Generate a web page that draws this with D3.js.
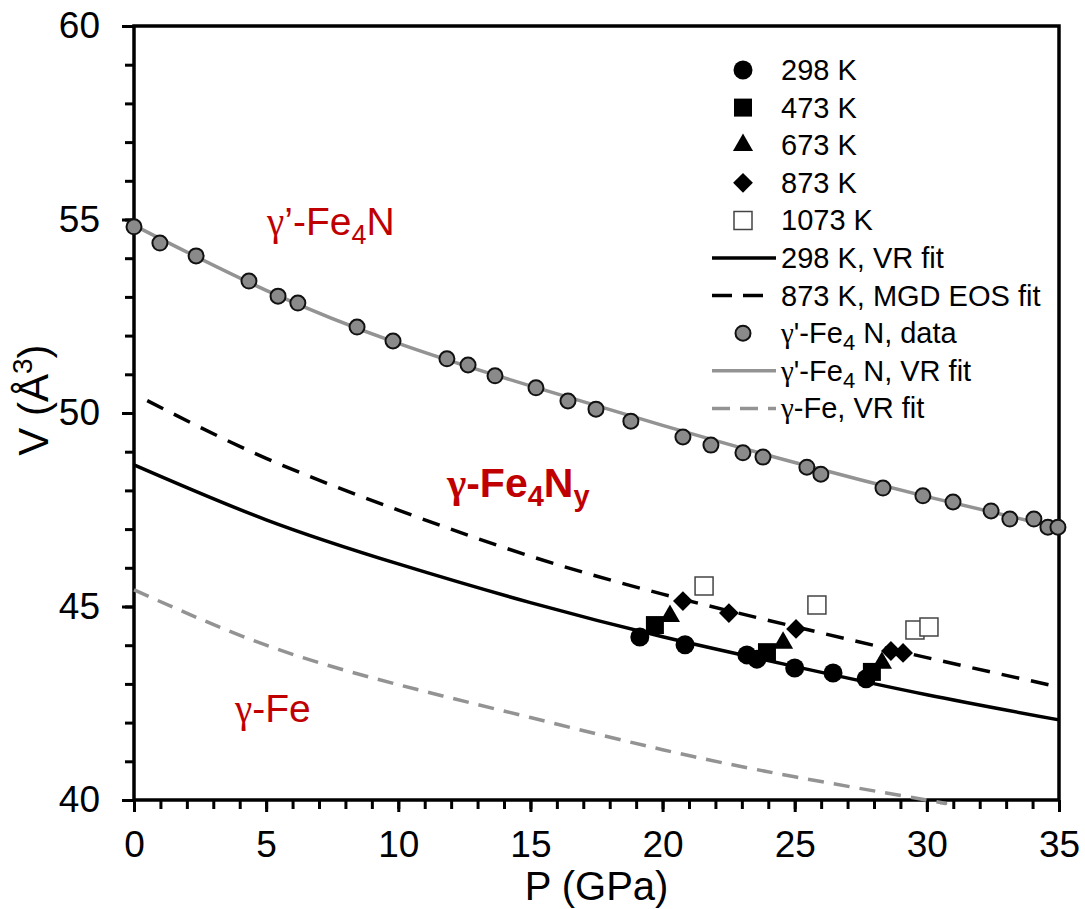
<!DOCTYPE html>
<html>
<head>
<meta charset="utf-8">
<script src="https://cdn.jsdelivr.net/npm/d3@7"></script>
<style>
	body { margin: 0; background: #fff; }
	svg { display: block; }
	text { font-family: "Liberation Sans", Arial, sans-serif; }
</style>
</head>
<body>
<svg id="chart" width="1085" height="909"></svg>
<script>

// gamma'-Fe4N data (P in GPa, V in A^3)
const fe4nP = [0, 0.98, 2.35, 4.35, 5.45, 6.2, 8.44, 9.8, 11.84, 12.64, 13.66, 15.21, 16.42, 17.48,
	18.8, 20.77, 21.83, 23.04, 23.8, 25.46, 25.99, 28.34, 29.85, 30.99, 32.43, 33.14, 34.05, 34.58, 34.96]
const fe4nV = [54.81, 54.39, 54.06, 53.41, 53.02, 52.84, 52.22, 51.86, 51.40, 51.24, 50.96, 50.65, 50.31, 50.10,
	49.79, 49.38, 49.17, 48.97, 48.86, 48.60, 48.42, 48.06, 47.86, 47.70, 47.47, 47.26, 47.26, 47.05, 47.05]

// gamma-Fe4Ny data by temperature
const p298 = [19.14, 20.85, 23.19, 23.57, 25.0, 26.45, 27.7]
const v298 = [44.21, 44.01, 43.75, 43.64, 43.41, 43.28, 43.13]
const p473 = [19.71, 23.95, 27.92]
const v473 = [44.52, 43.82, 43.31]
const p673 = [20.28, 24.56, 28.3]
const v673 = [44.75, 44.06, 43.54]
const p873 = [20.77, 22.51, 25.05, 28.64, 29.1]
const v873 = [45.14, 44.83, 44.42, 43.85, 43.80]
const p1073 = [21.57, 25.84, 29.55, 30.08]
const v1073 = [45.53, 45.04, 44.39, 44.47]

// fitted curves
const fitP = [0, 5, 10, 15, 20, 25, 30, 35]
const vr298V = [48.66, 47.24, 46.10, 45.10, 44.22, 43.45, 42.72, 42.07]
const fe4nFitV = [54.85, 53.17, 51.80, 50.70, 49.68, 48.72, 47.84, 47.03]
const mgdP = [0.5, 5, 10, 15, 20, 25, 30, 35]
const mgd873V = [50.32, 48.83, 47.49, 46.30, 45.32, 44.48, 43.68, 42.92]
const feP = [0, 5, 10, 15, 20, 25, 30, 30.5]
const feFitV = [45.43, 44.00, 42.98, 42.13, 41.30, 40.60, 40.00, 39.93]

const xTicks = [0, 5, 10, 15, 20, 25, 30, 35]
const yTicks = [40, 45, 50, 55, 60]
const legendLabels = ['298 K', '473 K', '673 K', '873 K', '1073 K', '298 K, VR fit', '873 K, MGD EOS fit',
	'γ\'-Fe4N, data', 'γ\'-Fe4N, VR fit', 'γ-Fe, VR fit']

const svg = d3.select('#chart')
const plotL = 134, plotR = 1059, plotT = 26, plotB = 800
const gray = '#939393'
const grayFill = '#8a8a8a'
const red = '#c00000'

const x = d3.scaleLinear().domain([0, 35]).range([plotL, plotR])
const y = d3.scaleLinear().domain([40, 60]).range([plotB, plotT])

// axes: minor ticks first, then major with labels
function styleAxis(g) {
	g.select('.domain').remove()
	g.selectAll('.tick line').attr('stroke', '#000').attr('stroke-width', 3)
	g.selectAll('.tick text').attr('fill', '#000').style('font-size', '37px')
}
svg.append('g').attr('transform', 'translate(0,' + plotB + ')')
	.call(d3.axisBottom(x).tickValues(d3.range(0, 36, 1)).tickSize(9).tickFormat(''))
	.call(styleAxis)
svg.append('g').attr('transform', 'translate(0,' + plotB + ')')
	.call(d3.axisBottom(x).tickValues(xTicks).tickSize(12).tickPadding(19).tickFormat(d3.format('d')))
	.call(styleAxis)
svg.append('g').attr('transform', 'translate(' + plotL + ',0)')
	.call(d3.axisLeft(y).tickValues(d3.range(40, 61, 1)).tickSize(9).tickFormat(''))
	.call(styleAxis)
svg.append('g').attr('transform', 'translate(' + plotL + ',0)')
	.call(d3.axisLeft(y).tickValues(yTicks).tickSize(12).tickPadding(22).tickFormat(d3.format('d')))
	.call(styleAxis)

svg.append('rect')
	.attr('x', plotL).attr('y', plotT)
	.attr('width', plotR - plotL).attr('height', plotB - plotT)
	.attr('fill', 'none').attr('stroke', '#000').attr('stroke-width', 3.5)

// axis titles
svg.append('text')
	.attr('x', (plotL + plotR) / 2).attr('y', 900)
	.attr('text-anchor', 'middle').style('font-size', '40px')
	.text('P (GPa)')
const yTitle = svg.append('text')
	.attr('transform', 'translate(48,400) rotate(-90)')
	.attr('text-anchor', 'middle').style('font-size', '42px')
yTitle.append('tspan').text('V (Å')
yTitle.append('tspan').attr('dy', -16).style('font-size', '28px').text('3')
yTitle.append('tspan').attr('dy', 16).text(')')

// fit lines
const zip = (ps, vs) => ps.map((p, i) => [p, vs[i]])
const line = d3.line().x(d => x(d[0])).y(d => y(d[1])).curve(d3.curveNatural)

const fits = [
	{ pts: zip(feP, feFitV), color: gray, dash: '16,10' },
	{ pts: zip(fitP, vr298V), color: '#000', dash: null },
	{ pts: zip(mgdP, mgd873V), color: '#000', dash: '18,12' },
	{ pts: zip(fitP, fe4nFitV), color: gray, dash: null }
]
svg.append('g').selectAll('path')
	.data(fits)
	.enter().append('path')
		.attr('d', d => line(d.pts))
		.attr('fill', 'none')
		.attr('stroke', d => d.color)
		.attr('stroke-width', 3.5)
		.attr('stroke-dasharray', d => d.dash)

// markers
const sym = {
	circle: d3.symbol().type(d3.symbolCircle).size(Math.PI * 9.5 * 9.5),
	square: d3.symbol().type(d3.symbolSquare).size(18 * 18),
	triangle: d3.symbol().type(d3.symbolTriangle).size(175),
	diamond: d3.symbol().type(d3.symbolSquare).size(14 * 14),
	open: d3.symbol().type(d3.symbolSquare).size(18 * 18),
	gray: d3.symbol().type(d3.symbolCircle).size(Math.PI * 7.5 * 7.5)
}
const markerStyle = {
	circle: { fill: '#000', stroke: 'none', sw: 0 },
	square: { fill: '#000', stroke: 'none', sw: 0 },
	triangle: { fill: '#000', stroke: 'none', sw: 0 },
	diamond: { fill: '#000', stroke: 'none', sw: 0 },
	open: { fill: '#fff', stroke: '#444', sw: 1.5 },
	gray: { fill: grayFill, stroke: '#111', sw: 2 }
}
function drawMarkers(kind, ps, vs) {
	const st = markerStyle[kind]
	svg.append('g').selectAll('path')
		.data(zip(ps, vs))
		.enter().append('path')
			.attr('d', sym[kind]())
			.attr('transform', d => 'translate(' + x(d[0]) + ',' + y(d[1]) + ')' + (kind === 'diamond' ? ' rotate(45)' : ''))
			.attr('fill', st.fill)
			.attr('stroke', st.stroke)
			.attr('stroke-width', st.sw)
}
drawMarkers('gray', fe4nP, fe4nV)
drawMarkers('open', p1073, v1073)
drawMarkers('diamond', p873, v873)
drawMarkers('circle', p298, v298)
drawMarkers('square', p473, v473)
drawMarkers('triangle', p673, v673)

// region labels
function phaseLabel(px, py, bold, size, parts) {
	const t = svg.append('text')
		.attr('x', px).attr('y', py)
		.attr('fill', red)
		.style('font-size', size + 'px')
		.style('font-weight', bold ? 'bold' : 'normal')
	parts.forEach(p => {
		const s = t.append('tspan').text(p.t)
		if (p.serif) s.style('font-family', '"Liberation Serif", serif')
		if (p.sub) s.attr('dy', 9).style('font-size', Math.round(size * 0.7) + 'px')
		if (p.up) s.attr('dy', -9)
	})
}
phaseLabel(267, 235, false, 39, [{ t: 'γ', serif: true }, { t: '’-Fe' }, { t: '4', sub: true }, { t: 'N', up: true }])
phaseLabel(447, 497, true, 41, [{ t: 'γ', serif: true }, { t: '-Fe' }, { t: '4', sub: true }, { t: 'N', up: true }, { t: 'y', sub: true }])
phaseLabel(235, 722, false, 39, [{ t: 'γ', serif: true }, { t: '-Fe' }])

// legend
const legY = 70, legStep = 37.6, legMx = 743, legTx = 781
const legKinds = ['circle', 'square', 'triangle', 'diamond', 'open', 'line', 'dash', 'gray', 'grayline', 'graydash']
const legend = svg.append('g')
legendLabels.forEach((lab, i) => {
	const yy = legY + i * legStep
	const k = legKinds[i]
	if (sym[k]) {
		const st = markerStyle[k]
		legend.append('path')
			.attr('d', sym[k]())
			.attr('transform', 'translate(' + legMx + ',' + yy + ')' + (k === 'diamond' ? ' rotate(45)' : ''))
			.attr('fill', st.fill).attr('stroke', st.stroke).attr('stroke-width', st.sw)
	} else {
		legend.append('line')
			.attr('x1', 712).attr('x2', k === 'dash' ? 764 : 776)
			.attr('y1', yy).attr('y2', yy)
			.attr('stroke', k.startsWith('gray') ? gray : '#000')
			.attr('stroke-width', 3.5)
			.attr('stroke-dasharray', k === 'dash' ? '20,11' : (k === 'graydash' ? '18,10' : null))
	}
	const t = legend.append('text')
		.attr('x', legTx).attr('y', yy + 10)
		.style('font-size', '29px')
	if (lab.includes('Fe4N')) {
		const rest = lab.split('Fe4N')
		t.append('tspan').style('font-family', '"Liberation Serif", serif').text('γ')
		t.append('tspan').text(rest[0].slice(1) + 'Fe')
		t.append('tspan').attr('dy', 7).style('font-size', '22px').text('4')
		t.append('tspan').attr('dy', -7).text(' N' + rest[1])
	} else if (lab.startsWith('γ')) {
		t.append('tspan').style('font-family', '"Liberation Serif", serif').text('γ')
		t.append('tspan').text(lab.slice(1))
	} else {
		t.text(lab)
	}
})

</script>
</body>
</html>
